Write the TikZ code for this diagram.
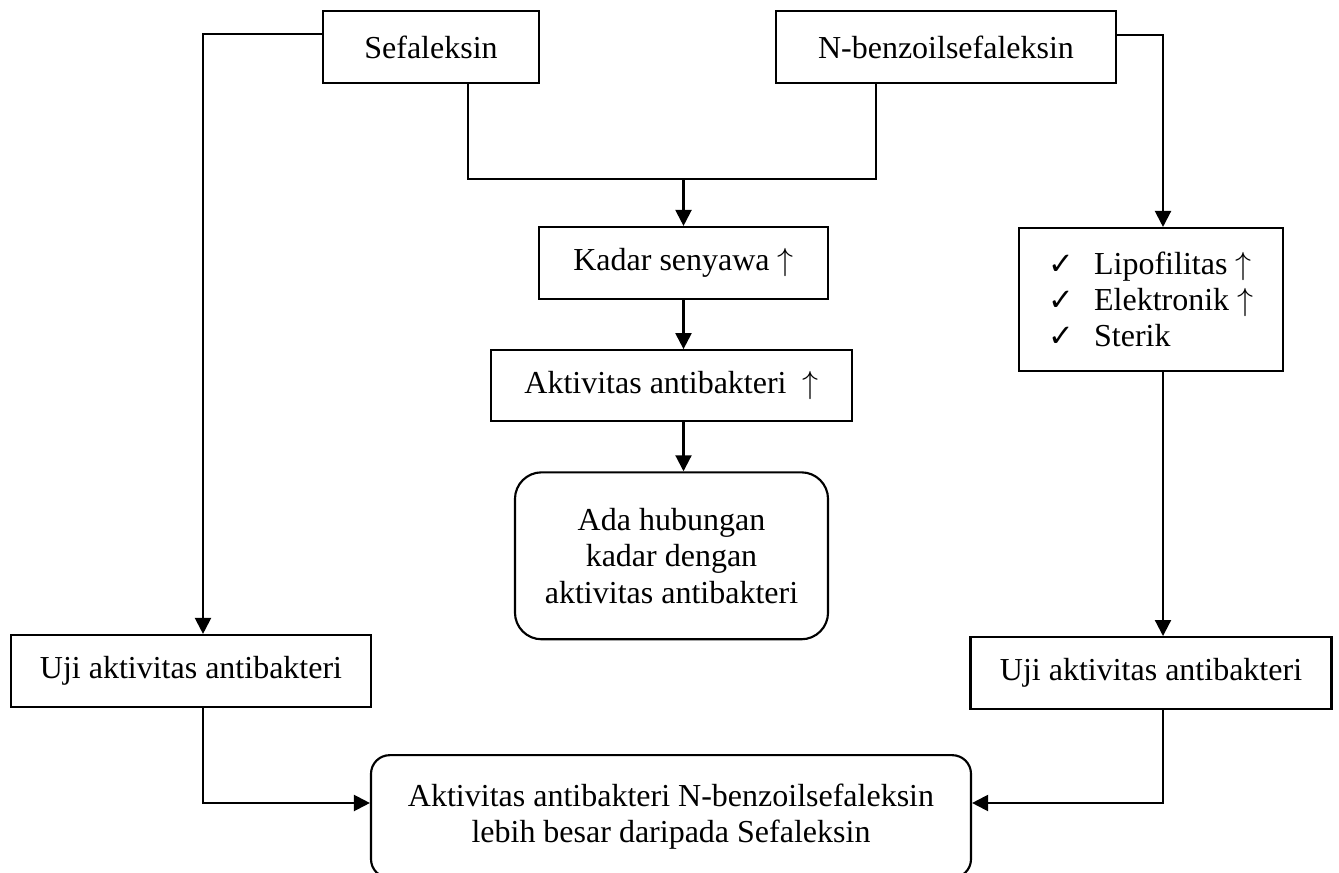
\documentclass[tikz,border=0pt]{standalone}
\usepackage{fontspec}
\setmainfont{Liberation Serif}
\newfontfamily\centangfont{DejaVu Sans}
\usetikzlibrary{arrows.meta, positioning}

\newcommand{\cek}{\makebox[17pt][l]{\centangfont\fontsize{11.5}{12}\selectfont ✓}}
\newcommand{\naik}{$\uparrow$}

\begin{document}
\begin{tikzpicture}[
        x=0.375pt, y=-0.375pt,
        node distance=18.4pt,
        kotak/.style={rectangle, draw=black, line width=0.8pt, inner sep=0pt, align=center, font=\fontsize{12}{13.6}\selectfont},
        bulat/.style={kotak, rounded corners=10pt},
        panah/.style={-{Triangle[length=6pt, width=6pt]}, line width=0.8pt},
        garis/.style={line width=0.8pt}
    ]

    \clip (0,0) rectangle (1339,873);

    \node (sefa) [kotak, minimum width=81pt, minimum height=27pt] at (431,47) {Sefaleksin};
    \node (nbenz) [kotak, minimum width=127.5pt, minimum height=27pt] at (946,47) {N-benzoilsefaleksin};

    \node (kadar) [kotak, minimum width=108.4pt, minimum height=27pt] at (683.5,263) {Kadar senyawa \naik};
    \node (aktiv) [kotak, minimum width=135.4pt, minimum height=26.6pt, below=18.4pt of kadar, xshift=-4.5pt] {Aktivitas antibakteri~ \naik};
    \node (ada) [bulat, minimum width=117.4pt, minimum height=62.6pt, below=of aktiv] {Ada hubungan\\kadar dengan\\aktivitas antibakteri};

    \node (cek) [kotak, minimum width=99pt, minimum height=53.6pt, align=left] at (1151,299.5) {\cek Lipofilitas \naik\\\cek Elektronik \naik\\\cek Sterik};
    \node (ujikanan) [kotak, minimum width=135.4pt, minimum height=27pt, below=99pt of cek] {Uji aktivitas antibakteri};
    \node (ujikiri) [kotak, minimum width=135pt, minimum height=27pt] at (191,671) {Uji aktivitas antibakteri};

    \node (hasil) [bulat, rounded corners=7pt, minimum width=225pt, minimum height=46pt] at (671,816.5) {Aktivitas antibakteri N-benzoilsefaleksin\\lebih besar daripada Sefaleksin};

    \coordinate (belokkiri) at (203,34);
    \coordinate (belokkanan) at (1163,35);
    \coordinate (turunsefa) at (468,179);
    \coordinate (turunnbenz) at (876,179);
    \coordinate (masuk) at (0,803);

    \draw [panah] (sefa.west |- belokkiri) -- (belokkiri) -- (belokkiri |- ujikiri.north);
    \draw [panah] (nbenz.east |- belokkanan) -- (belokkanan) -- (belokkanan |- cek.north);
    \draw [panah] (cek.south -| belokkanan) -- (belokkanan |- ujikanan.north);
    \draw [garis] (sefa.south -| turunsefa) -- (turunsefa) -- (turunnbenz) -- (nbenz.south -| turunnbenz);
    \draw [panah] (kadar.north |- turunsefa) -- (kadar.north);
    \draw [panah] (kadar.south) -- (kadar.south |- aktiv.north);
    \draw [panah] (aktiv.south -| kadar.south) -- (kadar.south |- ada.north);
    \draw [panah] (ujikiri.south -| belokkiri) |- (hasil.west |- masuk);
    \draw [panah] (ujikanan.south -| belokkanan) |- (hasil.east |- masuk);

\end{tikzpicture}
\end{document}
